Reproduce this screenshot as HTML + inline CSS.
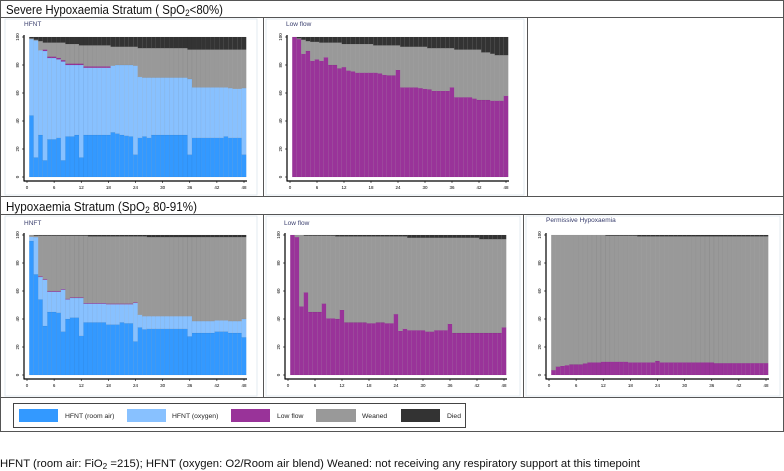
<!DOCTYPE html>
<html><head><meta charset="utf-8">
<style>
html,body{margin:0;padding:0;background:#fff;width:784px;height:471px;overflow:hidden;}
svg{display:block;font-family:"Liberation Sans",sans-serif;}
</style></head>
<body>
<svg id="fig" width="784" height="471" viewBox="0 0 784 471">
  <g fill="none" stroke="#555" stroke-width="1">
    <rect x="0.5" y="0.5" width="783" height="431"/>
    <line x1="0" y1="17.5" x2="784" y2="17.5"/>
    <line x1="0" y1="196.5" x2="784" y2="196.5"/>
    <line x1="0" y1="214.5" x2="784" y2="214.5"/>
    <line x1="0" y1="397.5" x2="784" y2="397.5"/>
    <line x1="263.5" y1="17" x2="263.5" y2="196"/>
    <line x1="527.5" y1="17" x2="527.5" y2="196"/>
    <line x1="263.5" y1="214" x2="263.5" y2="397"/>
    <line x1="523.5" y1="214" x2="523.5" y2="397"/>
  </g>
  <text x="6" y="14" font-size="12.5" fill="#111" textLength="217" lengthAdjust="spacingAndGlyphs">Severe Hypoxaemia Stratum ( SpO<tspan font-size="9" dy="2">2</tspan><tspan dy="-2">&lt;80%)</tspan></text>
  <text x="6" y="211" font-size="12.5" fill="#111" textLength="191" lengthAdjust="spacingAndGlyphs">Hypoxaemia Stratum (SpO<tspan font-size="9" dy="2">2</tspan><tspan dy="-2"> 80-91%)</tspan></text>
  <g id="panels"></g>
  <g font-size="6.8" fill="#222">
    <rect x="13.5" y="403.5" width="452" height="24" fill="#fff" stroke="#444"/>
    <rect x="19" y="409" width="39" height="13" fill="#3399ff"/>
    <text x="65" y="418">HFNT (room air)</text>
    <rect x="127" y="409" width="39" height="13" fill="#88c1ff"/>
    <text x="172" y="418">HFNT (oxygen)</text>
    <rect x="231" y="409" width="39" height="13" fill="#993399"/>
    <text x="277" y="418">Low flow</text>
    <rect x="316" y="409" width="40" height="13" fill="#999999"/>
    <text x="362" y="418">Weaned</text>
    <rect x="401" y="409" width="39" height="13" fill="#333333"/>
    <text x="447" y="418">Died</text>
  </g>
  <text x="0" y="467" font-size="11" fill="#111" textLength="640" lengthAdjust="spacingAndGlyphs">HFNT (room air: FiO<tspan font-size="8" dy="2">2</tspan><tspan dy="-2"> =215); HFNT (oxygen: O2/Room air blend) Weaned: not receiving any respiratory support at this timepoint</tspan></text>
</svg>
<script>
// Hours 1..48
const hours = Array.from({length:48},(_,i)=>i+1);
const xTicks = [0,6,12,18,24,30,36,42,48];
const yTicks = [0,20,40,60,80,100];
const seriesNames = ["roomAir","oxygen","lowFlow","weaned","died"];
const seriesColors = ["#3399ff","#88c1ff","#993399","#999999","#333333"];

// Panel 1: Severe, HFNT
const p1RoomAir = [44,14,30,12,27,27,28,12,29,29,30,14,30,30,30,30,30,30,32,31,30,29.5,29,16,28,29,28,30,30,30,30,30,30,30,30,16,28,28,28,28,28,28,28,29,28,28,28,16];
const p1Oxygen = [54.5,83.5,60.5,78,58,58,56,70.5,51,51,50,66,48,48,48,48,48,48,47.5,49,50,50.5,51,63.5,43.5,42,43,41,41,41,41,41,41,41,41,54,36,36,36,36,36,36,36,35,35.5,35,35,47.5];
const p1LowFlow = [0,0,0,1,1,1,1,1,1,1,1,1,1,1,1,1,1,1,0,0,0,0,0,0,0,0,0,0,0,0,0,0,0,0,0,0,0,0,0,0,0,0,0,0,0,0,0,0];
const p1Died = [1,2,3,4,4,4,4,4,5,5,5,6,6,6,6,6,6,6,7,7,7,7,7,7,8,8,8,8,8,8,8,8,8,8,8,9,9,9,9,9,9,9,9,9,9,9,9,9];

// Panel 2: Severe, Low flow
const p2LowFlow = [100,98.5,88,90,83,84,83,85.5,80,80,77.5,78.5,76,75.5,74.5,74.5,74.5,74.5,74.5,74,73,72.5,72.5,76.5,64,64,64,64,63.5,63,62.5,61.5,61.5,61.5,61.5,64,57,57,57,57,56,55,55,55,54.5,54.5,54.5,58];
const p2Died = [0,1,2,3,3.5,3.5,4,4,4,4,4,5,5,5,5,5,5,5,6,6,6,6,6,6,7,7,7,7,7,7,8,8,8,8,8,8,9,9,9,9,9,9,11,11,12,13,13,13];

// Panel 3: Hypoxaemia, HFNT
const p3RoomAir = [95.7,72,54,35,45,45,44.5,31,40,41,41,28,37.5,37.5,37.5,37.5,37.5,36,36,36,37.5,37,37,24,34,32.5,33,33,33,33,33,33,33,33,33,27.5,30,30,30,30,30,31,31,31,30,30,30,27];
const p3Oxygen = [3,26.5,16,33,14.5,14.5,15,30,14,14,14,27,13.5,13.5,13.5,13.5,13.5,14.5,14.5,14.5,13,13.5,13.5,27.5,9,9.5,9,9,9,9,9,9,9,9,9,14.5,8.5,8.5,8.5,8.5,8.5,8,8,8,8.5,8.5,8.5,13];
const p3LowFlow = [0,0,0.5,0.5,0.5,0.5,0.5,0.5,0.5,0.5,0.5,0.5,0.5,0.5,0.5,0.5,0.5,0.5,0.5,0.5,0.5,0.5,0.5,0.5,0,0,0,0,0,0,0,0,0,0,0,0,0,0,0,0,0,0,0,0,0,0,0,0];
const p3Died = [0,0.5,0.5,0.5,0.5,0.5,0.5,0.5,0.5,0.5,0.5,0.5,0.5,1,1,1,1,1,1,1,1,1,1,1,1,1,1.5,1.5,1.5,1.5,1.5,1.5,1.5,1.5,1.5,1.5,1.5,1.5,1.5,1.5,1.5,1.5,1.5,1.5,1.5,1.5,1.5,1.5];

// Panel 4: Hypoxaemia, Low flow
const p4LowFlow = [100,98.5,49,59,45,45,45,51,40.5,40.5,40,46.5,37.5,37.5,37.5,37.5,37.5,37,37,37.5,37.5,37,37,43.5,31.5,33,32,32,32,32,31,31,32,32,32,36.5,30,30,30,30,30,30,30,30,30,30,30,34];
const p4Died = [0,0,0,0.5,0.5,0.5,0.5,0.5,0.5,0.5,1,1,1,1,1,1,1,1,1,1,1,1,1,1,1,1,2,2,2,2,2,2,2,2,2,2,2,2,2,2,2,2,3,3,3,3,3,3];

// Panel 5: Hypoxaemia, Permissive
const p5LowFlow = [3.5,6,6.5,7,7.5,7.5,7.5,8.3,9,9,9,9.5,9.5,9.5,9.5,9.5,9.5,9,9,9,9,9,9,10,9,9,9,9,9,9,9,9,9,9,9,9,8.5,8.5,8.5,8.5,8.5,8.5,8.5,8.5,8.5,8.5,8.5,8.5];
const p5Died = [0,0,0,0,0,0,0,0,0,0,0,0,0.5,0.5,0.5,0.5,0.5,0.5,0.5,1,1,1,1,1,1,1,1,1,1,1,1,1,1,1,1,1,1,1,1,1,1,1,1,1,1,1,1,1];

const zeros = hours.map(()=>0);
const NS = "http://www.w3.org/2000/svg";

function mk(tag, attrs, parent){
  const e = document.createElementNS(NS, tag);
  for (const k in attrs) e.setAttribute(k, attrs[k]);
  parent.appendChild(e);
  return e;
}

function drawPanel(cfg){
  const root = document.getElementById('panels');
  const g = mk('g', {}, root);
  
  
  mk('rect', {x:cfg.fx, y:cfg.fy, width:cfg.fw, height:cfg.fh, fill:'none', stroke:'#dde6ee', 'stroke-width':0.8}, g);
  const xs = t => cfg.x0 + (cfg.x48 - cfg.x0) * t / 48;
  const ys = v => cfg.yb + (cfg.yt - cfg.yb) * v / 100;
  const bw = (cfg.x48 - cfg.x0) / 48;
  const st = mk('text', {x:cfg.tx, y:cfg.ty, 'font-size':6.5, fill:'#3a3f6e'}, g);
  st.textContent = cfg.title;
  
  
  const series = [cfg.roomAir, cfg.oxygen, cfg.lowFlow, null, cfg.died];
  hours.forEach((h, i) => {
    const vals = series.map(s => s ? s[i] : 0);
    vals[3] = Math.max(0, 100 - vals[0] - vals[1] - vals[2] - vals[4]);
    let cum = 0;
    vals.forEach((v, k) => {
      if (v <= 0) return;
      const r = mk('rect', {x:xs(h) - bw/2, y:ys(cum + v), width:bw, height:ys(cum) - ys(cum + v), fill:seriesColors[k], stroke:'rgba(0,0,0,0.12)', 'stroke-width':0.3}, g);
      
      
      cum += v;
    });
  });
  const ya = mk('line', {x1:cfg.x0 - 3, y1:ys(100) - 2, x2:cfg.x0 - 3, y2:cfg.yb + 4, stroke:'#000', 'stroke-width':1.2}, g);
  
  
  const xa = mk('line', {x1:cfg.x0 - 3.5, y1:cfg.yb + 4, x2:cfg.x48 + 3, y2:cfg.yb + 4, stroke:'#000', 'stroke-width':1.2}, g);
  
  
  yTicks.forEach(v => {
    mk('line', {x1:cfg.x0 - 5, y1:ys(v), x2:cfg.x0 - 3, y2:ys(v), stroke:'#000', 'stroke-width':0.6}, g);
    const tx = cfg.x0 - 8, ty = ys(v);
    const t = mk('text', {x:tx, y:ty, 'font-size':4.5, 'text-anchor':'middle', transform:'rotate(-90 ' + tx + ' ' + ty + ')'}, g);
    t.textContent = v;
    
    
  });
  xTicks.forEach(v => {
    mk('line', {x1:xs(v), y1:cfg.yb + 4, x2:xs(v), y2:cfg.yb + 6, stroke:'#000', 'stroke-width':0.6}, g);
    const t = mk('text', {x:xs(v), y:cfg.yb + 12, 'font-size':4.5, 'text-anchor':'middle'}, g);
    t.textContent = v;
    
    
  });
}

drawPanel({name:'panel-severe-hfnt', title:'HFNT', tx:24, ty:26, x0:27, x48:244, yt:37, yb:177, fx:5, fy:19, fw:252, fh:176,
  roomAir:p1RoomAir, oxygen:p1Oxygen, lowFlow:p1LowFlow, died:p1Died});
drawPanel({name:'panel-severe-low-flow', title:'Low flow', tx:286, ty:26, x0:290, x48:506, yt:37, yb:177, fx:266, fy:19, fw:258, fh:176,
  roomAir:zeros, oxygen:zeros, lowFlow:p2LowFlow, died:p2Died});
drawPanel({name:'panel-hypox-hfnt', title:'HNFT', tx:24, ty:225, x0:27, x48:244, yt:235, yb:375, fx:5, fy:216, fw:252, fh:180,
  roomAir:p3RoomAir, oxygen:p3Oxygen, lowFlow:p3LowFlow, died:p3Died});
drawPanel({name:'panel-hypox-low-flow', title:'Low flow', tx:284, ty:225, x0:288, x48:504, yt:235, yb:375, fx:266, fy:216, fw:254, fh:180,
  roomAir:zeros, oxygen:zeros, lowFlow:p4LowFlow, died:p4Died});
drawPanel({name:'panel-hypox-permissive', title:'Permissive Hypoxaemia', tx:546, ty:222, x0:549, x48:766, yt:235, yb:375, fx:526, fy:216, fw:254, fh:180,
  roomAir:zeros, oxygen:zeros, lowFlow:p5LowFlow, died:p5Died});
</script>
</body></html>
